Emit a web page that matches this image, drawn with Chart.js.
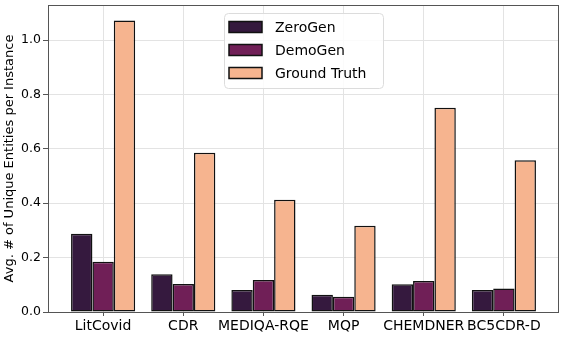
<!DOCTYPE html>
<html>
<head>
<meta charset="utf-8">
<script src="https://cdn.jsdelivr.net/npm/chart.js@4"></script>
<style>
  html, body { margin: 0; padding: 0; background: #fff; }
  #wrap { width: 565px; height: 337px; }
</style>
</head>
<body>
<div id="wrap"><canvas id="chart" width="565" height="337"></canvas></div>
<script>
// datasets on the x axis
const categories = ['LitCovid', 'CDR', 'MEDIQA-RQE', 'MQP', 'CHEMDNER', 'BC5CDR-D'];

// avg. number of unique entities per instance
const zeroGen = [0.288, 0.139, 0.081, 0.063, 0.102, 0.081];
const demoGen = [0.185, 0.103, 0.118, 0.056, 0.114, 0.086];
const groundTruth = [1.072, 0.586, 0.413, 0.317, 0.751, 0.558];

const yTicks = [0.0, 0.2, 0.4, 0.6, 0.8, 1.0];

const seriesNames = ['ZeroGen', 'DemoGen', 'Ground Truth'];
const seriesColors = ['#35193e', '#701f57', '#f6b48f'];
const seriesValues = [zeroGen, demoGen, groundTruth];

const FONT = 'DejaVu Sans';
Chart.defaults.font.family = FONT;
Chart.defaults.color = '#000';

// box around the plot, like matplotlib's spines
const framePlugin = {
    id: 'frame',
    afterDraw(chart) {
        const { ctx, chartArea: a } = chart;
        ctx.save();
        ctx.strokeStyle = '#555';
        ctx.lineWidth = 1;
        ctx.strokeRect(Math.round(a.left) + 0.5, Math.round(a.top) + 0.5,
            Math.round(a.right - a.left) - 1, Math.round(a.bottom - a.top));
        ctx.restore();
    }
};

// legend drawn inside the plot, top centre
const legendPlugin = {
    id: 'boxLegend',
    afterDraw(chart) {
        const ctx = chart.ctx;
        const x = 224, y = 13, w = 159, h = 75;
        ctx.save();
        ctx.beginPath();
        ctx.roundRect(x + 0.5, y + 0.5, w, h, 4);
        ctx.fillStyle = 'rgba(255,255,255,0.85)';
        ctx.fill();
        ctx.strokeStyle = '#dcdcdc';
        ctx.lineWidth = 1;
        ctx.stroke();
        ctx.font = '14px "' + FONT + '"';
        ctx.textBaseline = 'middle';
        chart.data.datasets.forEach((ds, i) => {
            const cy = y + 14 + i * 23;
            ctx.fillStyle = ds.backgroundColor;
            ctx.fillRect(x + 5, cy - 5.5, 33, 11);
            ctx.strokeStyle = '#111';
            ctx.lineWidth = 1.5;
            ctx.strokeRect(x + 5, cy - 5.5, 33, 11);
            ctx.fillStyle = '#000';
            ctx.fillText(ds.label, x + 51, cy + 1);
        });
        ctx.restore();
    }
};

const datasets = seriesNames.map((name, i) => ({
    label: name,
    data: seriesValues[i].map((v, j) => ({ x: j, y: v })),
    backgroundColor: seriesColors[i],
    borderColor: '#111',
    borderWidth: 1.5,
    borderSkipped: false,
    categoryPercentage: 0.8,
    barPercentage: 1.0
}));

new Chart(document.getElementById('chart'), {
    type: 'bar',
    data: { datasets },
    options: {
        responsive: false,
        animation: false,
        devicePixelRatio: 1,
        layout: { padding: { top: 5, right: 6, left: 0, bottom: 0 } },
        plugins: {
            legend: { display: false },
            tooltip: { enabled: false }
        },
        scales: {
            x: {
                type: 'linear',
                min: -0.6875,
                max: 5.6875,
                offset: false,
                z: 1,
                afterBuildTicks: (s) => { s.ticks = categories.map((c, i) => ({ value: i })); },
                afterFit: (s) => { s.height = 25; s.paddingLeft = 0; s.paddingRight = 0; },
                grid: { offset: false, color: '#e3e3e3', lineWidth: 1, tickLength: 4, tickColor: '#555' },
                border: { display: false },
                ticks: {
                    autoSkip: false,
                    maxRotation: 0,
                    padding: 2,
                    color: '#000',
                    font: { size: 14 },
                    callback: (v) => categories[v]
                }
            },
            y: {
                min: 0,
                max: 1.129,
                z: 1,
                afterBuildTicks: (s) => { s.ticks = yTicks.map(v => ({ value: v })); },
                afterFit: (s) => { s.width = 48; s.paddingTop = 0; s.paddingBottom = 0; },
                grid: { color: '#e3e3e3', lineWidth: 1, tickLength: 5, tickColor: '#555' },
                border: { display: false },
                ticks: {
                    padding: 2,
                    color: '#000',
                    font: { size: 12.5 },
                    callback: (v) => v.toFixed(1)
                },
                title: {
                    display: true,
                    text: 'Avg. # of Unique Entities per Instance',
                    color: '#000',
                    font: { size: 13 },
                    padding: { top: 2, bottom: 0 }
                }
            }
        }
    },
    plugins: [framePlugin, legendPlugin]
});
</script>
</body>
</html>
